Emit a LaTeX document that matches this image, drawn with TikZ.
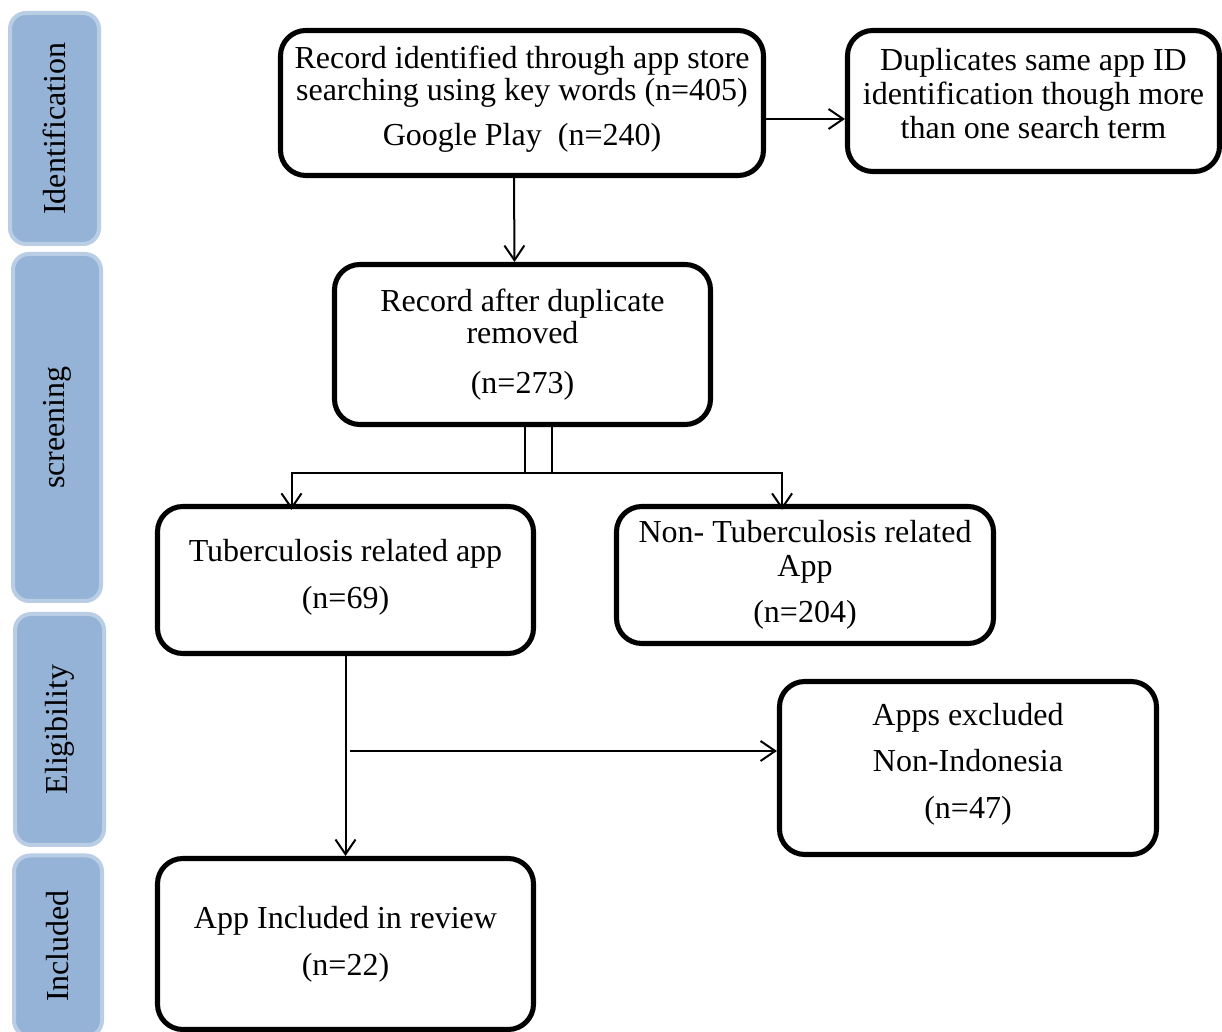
\documentclass[tikz,border=0pt]{standalone}
\usepackage{fontspec}
\setmainfont{Liberation Serif}
\usetikzlibrary{arrows.meta}
\definecolor{sidefill}{HTML}{95B3D7}
\definecolor{sideedge}{HTML}{B9CDE5}
\tikzset{
  dims/.style 2 args={minimum width=#1*0.375pt, minimum height=#2*0.375pt},
  stagebox/.style={draw, line width=1.9pt, rounded corners=9.5pt, inner sep=0pt,
    align=center, font=\fontsize{12}{12}\selectfont},
  boxtext/.style={inner sep=0pt, align=center, font=\fontsize{12}{12}\selectfont},
  sidebar/.style={draw=sideedge, fill=sidefill, line width=1.5pt, rounded corners=6pt,
    inner sep=0pt, rotate=90, font=\fontsize{12}{12}\selectfont},
  arr/.style={line width=0.75pt, -{Straight Barb[length=5.5pt, width=7.5pt, line width=0.75pt]}},
}
\begin{document}
\begin{tikzpicture}[x=0.375pt, y=-0.375pt]
\useasboundingbox (0,0) rectangle (1222,1032);
\begin{scope}
\clip (0,0) rectangle (1222,1032);
% stage labels down the left side
\node[sidebar, dims={231}{89}] (s1) at (54.5,128.5) {Identification};
\node[sidebar, dims={347}{88}] (s2) at (57,427.5) {screening};
\node[sidebar, dims={231}{89}] (s3) at (59.5,729.5) {Eligibility};
\node[sidebar, dims={181}{88}] (s4) at (58,946) {Included};

% flow boxes
\node[stagebox, dims={483}{145}] (A) at (522,103) {};
\node[boxtext] (Atext) at ([yshift=1.5pt]A.center)
  {Record identified through app store\\searching using key words (n=405)\\[5pt]Google Play\ \ (n=240)};
\node[stagebox, dims={372}{141}] (B) at (1033.5,101) {};
\node[boxtext, font=\fontsize{12}{12.6}\selectfont] (Btext) at ([yshift=2.8pt]B.center)
  {Duplicates same app ID\\identification though more\\than one search term};
\node[stagebox, dims={376}{160}] (C) at (522.5,344.5)
  {Record after duplicate\\removed\\[6.5pt](n=273)};
\node[stagebox, dims={376}{147}] (D) at (345.5,580) {};
\node[boxtext] (Dtext) at ([yshift=1pt]D.center)
  {Tuberculosis related app\\[5.5pt](n=69)};
\node[stagebox, dims={377}{137}, font=\fontsize{12}{12.4}\selectfont] (E) at (805,575)
  {Non- Tuberculosis related\\App\\[5pt](n=204)};
\node[stagebox, dims={377}{173}] (F) at (968,768) {};
\node[boxtext, font=\fontsize{12}{17.5}\selectfont] (Ftext) at ([yshift=1.5pt]F.center)
  {Apps excluded\\Non-Indonesia\\(n=47)};
\node[stagebox, dims={376}{171}] (G) at (345.5,944)
  {App Included in review\\[5.5pt](n=22)};

% connectors
\draw[arr] ([yshift=-6pt]A.east) -- ([yshift=-6pt]A.east -| B.west);
\draw[arr] ([xshift=-3pt]A.south) -- ([xshift=-3pt]C.north);
\draw[arr] ([xshift=10.9pt]C.south) -- ++(0,46) -| ([xshift=-20.25pt, yshift=-2.2pt]D.north);
\draw[arr] ([xshift=0.75pt]C.south) -- ++(0,46) -| ([xshift=-8.6pt, yshift=-2.2pt]E.north);
\draw[arr] (D.south) -- (G.north);
\coordinate (fork) at (350,751);
\draw[arr] (fork) -- (F.west |- fork);
\end{scope}
\end{tikzpicture}
\end{document}
